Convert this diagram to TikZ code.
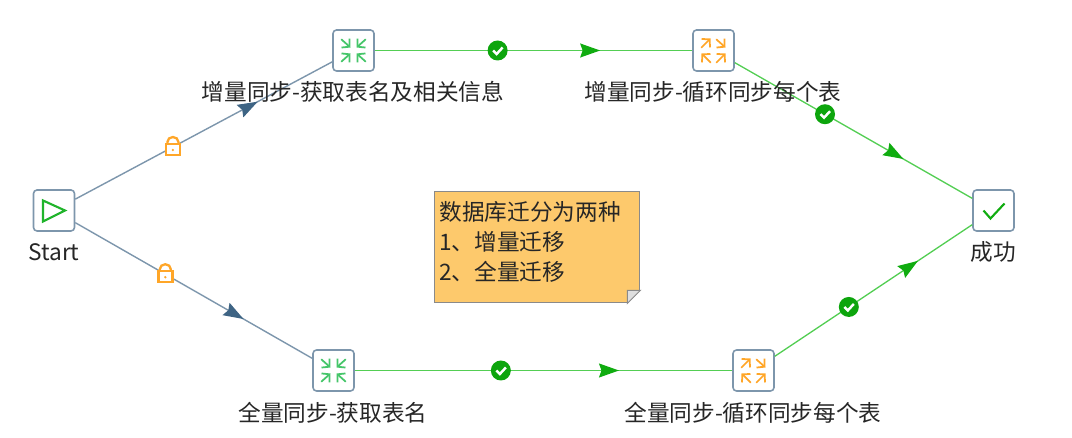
\documentclass[tikz,border=0pt]{standalone}
\usepackage{fontspec}
\setmainfont{Noto Sans CJK SC}
\usepackage{xcolor}
\usetikzlibrary{arrows.meta,decorations.markings}
\definecolor{linkgrey}{RGB}{125,150,172}
\definecolor{headblue}{RGB}{62,100,132}
\definecolor{okline}{RGB}{84,206,84}
\definecolor{okhead}{RGB}{16,172,16}
\definecolor{okdot}{RGB}{13,165,13}
\definecolor{lockorange}{RGB}{255,166,40}
\definecolor{mergegreen}{RGB}{70,198,106}
\definecolor{notefill}{RGB}{253,201,108}
\definecolor{noteedge}{RGB}{138,138,138}
\definecolor{foldgrey}{RGB}{222,222,222}
\tikzset{
  taskbox/.style={draw=linkgrey,line width=.9pt,rounded corners=.07cm,fill=white,
    minimum size=.82cm,inner sep=0pt},
  tasktext/.style={inner sep=0pt,font=\fontsize{12.9}{17}\selectfont,text=black!85},
  startlink/.style={draw=linkgrey,line width=.8pt,postaction={decorate},decoration={markings,
    mark=at position .71 with {\arrow{Stealth[length=.4cm,width=.28cm,inset=.05cm,color=headblue]}}}},
  oklink/.style={draw=okline,line width=.75pt,postaction={decorate},decoration={markings,
    mark=at position #1 with {\arrow{Stealth[length=.4cm,width=.28cm,inset=.05cm,color=okhead]}}}},
  oklink/.default=.71,
  iconline/.style={line width=1pt,line cap=round,-{Straight Barb[length=.11cm,width=.24cm]}},
  mergeicon/.pic={
    \draw[iconline,mergegreen] (-12,-11) -- (-3,-3);
    \draw[iconline,mergegreen] (12,-11) -- (3,-3);
    \draw[iconline,mergegreen] (-12,11) -- (-3,3);
    \draw[iconline,mergegreen] (12,11) -- (3,3);
  },
  spliticon/.pic={
    \draw[iconline,lockorange] (-12,-3) -- (-3,-12);
    \draw[iconline,lockorange] (3,-11) -- (12,-3);
    \draw[iconline,lockorange] (-3,12) -- (-12,3);
    \draw[iconline,lockorange] (3,12) -- (12,3);
  },
  playicon/.pic={
    \draw[okhead!70!mergegreen,line width=1.2pt,line join=miter] (-11,-10) -- (11,0) -- (-11,11) -- cycle;
  },
  tickicon/.pic={
    \draw[okhead,line width=1.2pt] (-10,0) -- (-3,8) -- (11,-7);
  },
  lockicon/.pic={
    \draw[lockorange,line width=1.3pt,fill=white] (-5.5,-3) -- (-5.5,-5) arc[start angle=180,end angle=360,x radius=5.5,y radius=5] -- (5.5,-3);
    \draw[lockorange,line width=1.4pt,fill=white] (-7,-3) rectangle (7,8);
    \fill[lockorange] (0,3) circle[radius=1.3];
  },
  okicon/.pic={
    \fill[okdot] (0,0) circle[radius=10];
    \draw[white,line width=1.4pt] (-4.5,0) -- (-1,3.5) -- (5,-3);
  },
}
\begin{document}
\begin{tikzpicture}[x=.02cm,y=-.02cm]
  \useasboundingbox (0,0) rectangle (1072,438);
  % tasks
  \node[taskbox] (start) at (54,210.5) {};
  \node[taskbox] (incrtables) at (353.5,50.5) {};
  \node[taskbox] (incrloop) at (713.5,50.5) {};
  \node[taskbox] (fulltables) at (333.5,370.5) {};
  \node[taskbox] (fullloop) at (753.5,370.5) {};
  \node[taskbox] (done) at (993.5,210.5) {};
  % links
  \draw[startlink] (start) -- (incrtables) pic[pos=.38] {lockicon};
  \draw[startlink] (start) -- (fulltables) pic[pos=.38] {lockicon};
  \draw[oklink] (incrtables) -- (incrloop) pic[pos=.387] {okicon};
  \draw[oklink] (incrloop) -- (done) pic[pos=.38] {okicon};
  \draw[oklink=.7] (fulltables) -- (fullloop) pic[pos=.387] {okicon};
  \draw[oklink=.725] (fullloop) -- (done) pic[pos=.375] {okicon};
  % icons
  \pic at (start) {playicon};
  \pic at (incrtables) {mergeicon};
  \pic at (incrloop) {spliticon};
  \pic at (fulltables) {mergeicon};
  \pic at (fullloop) {spliticon};
  \pic at (done) {tickicon};
  % labels
  \node[tasktext] (startlabel) at (54,252) {Start};
  \node[tasktext] (incrtableslabel) at (353,92) {增量同步-获取表名及相关信息};
  \node[tasktext] (incrlooplabel) at (713,92) {增量同步-循环同步每个表};
  \node[tasktext] (fulltableslabel) at (333,413) {全量同步-获取表名};
  \node[tasktext] (fullllooplabel) at (753,413) {全量同步-循环同步每个表};
  \node[tasktext] (donelabel) at (993,252) {成功};
  % note
  \node[draw=noteedge,line width=.8pt,fill=notefill,anchor=north west,inner sep=0pt,
    minimum width=4.1cm,minimum height=2.22cm] (note) at (434,191) {};
  \fill[white] (note.south east) -- ++(0,-13) -- ++(-13,13) -- cycle;
  \draw[noteedge,line width=.6pt,fill=foldgrey] (note.south east) ++(0,-13) -- ++(-13,13) -- ++(0,-13) -- cycle;
  \node[tasktext,anchor=north west,align=left] (notetext) at (439,201)
       {数据库迁分为两种\\1、增量迁移\\2、全量迁移};
\end{tikzpicture}
\end{document}
